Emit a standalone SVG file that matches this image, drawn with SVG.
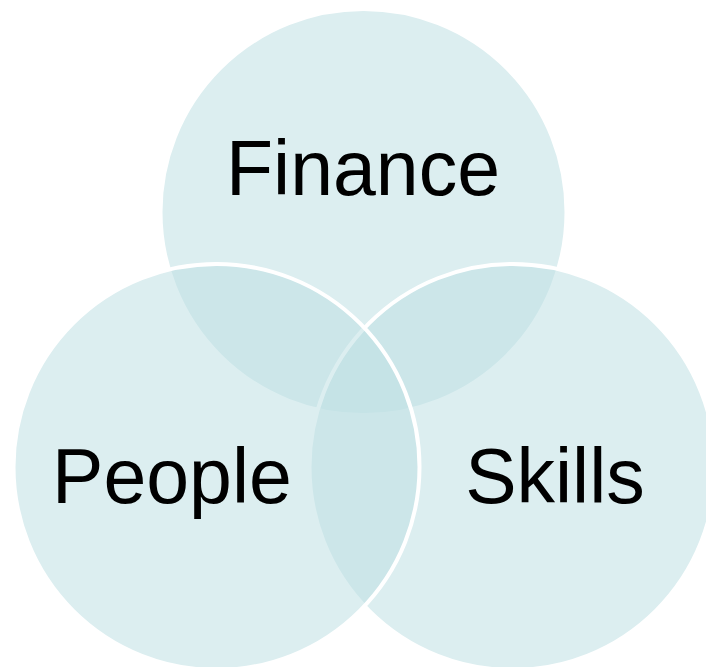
<svg xmlns="http://www.w3.org/2000/svg" width="706" height="667" viewBox="0 0 706 667">
<style>
.c{fill:#bee0e3;fill-opacity:0.54;stroke:#ffffff;stroke-width:4}
.t{font-family:"Liberation Sans",Arial,sans-serif;font-size:77px;fill:#000000;text-anchor:middle}
</style>
<rect width="706" height="667" fill="#ffffff"/>
<g id="finance">
<circle class="c" cx="363.5" cy="212" r="203" stroke="none"/>
<text class="t" x="363" y="195">Finance</text>
</g>
<g id="skills">
<circle class="c" cx="512.5" cy="467" r="203"/>
<text class="t" x="555" y="503">Skills</text>
</g>
<g id="people">
<circle class="c" cx="216.5" cy="467" r="203"/>
<text class="t" x="172" y="503">People</text>
</g>
<g id="connectors"></g>
</svg>
